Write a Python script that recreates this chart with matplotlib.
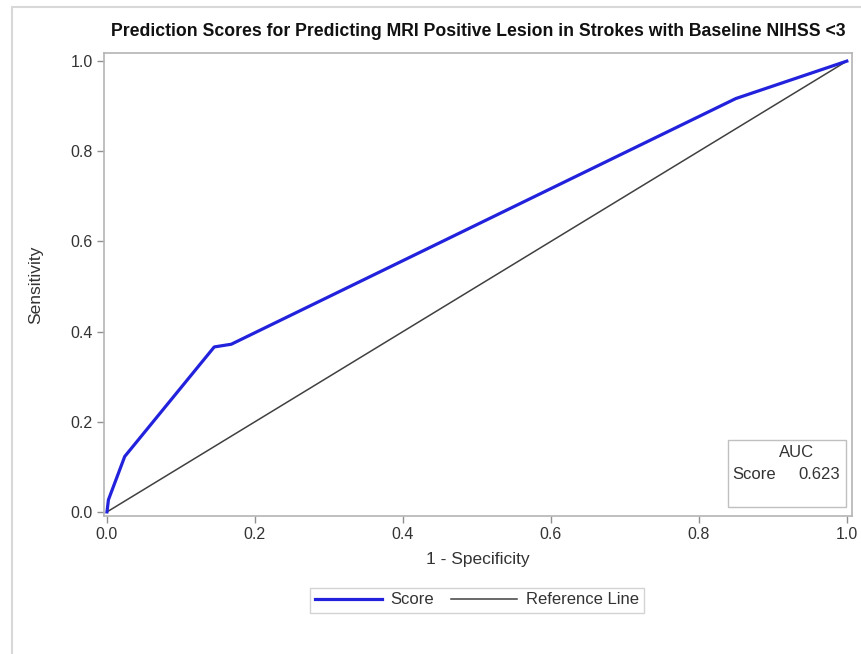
import numpy as np
import matplotlib
matplotlib.use("Agg")
import matplotlib.pyplot as plt
from matplotlib.patches import Rectangle

# ROC points
fpr = [0.0, 0.002, 0.024, 0.145, 0.168, 0.850, 1.0]
tpr = [0.0, 0.027, 0.123, 0.366, 0.372, 0.917, 1.0]
ref_x = [0.0, 1.0]
ref_y = [0.0, 1.0]
auc_label = "Score"
auc_value = 0.623

ticks = [0.0, 0.2, 0.4, 0.6, 0.8, 1.0]
tick_labels = ["0.0", "0.2", "0.4", "0.6", "0.8", "1.0"]

plt.rcParams['font.family'] = ['Liberation Sans', 'DejaVu Sans']

fig = plt.figure(figsize=(8.62, 6.54), dpi=100)

# outer light border
fig.patches.append(Rectangle((12 / 862, -0.05), 1.2, 1 - 7 / 654 + 0.05,
                             transform=fig.transFigure, fill=False,
                             edgecolor="#d8d8d8", linewidth=1.5))

ax = fig.add_axes([104 / 862, 1 - 516 / 654, 748 / 862, 463 / 654])

ax.plot(ref_x, ref_y, color="#404040", linewidth=1.1, label="Reference Line", zorder=2)
ax.plot(fpr, tpr, color="#2222dd", linewidth=2.3, label="Score", zorder=3)

ax.set_xlim(-0.004, 1.007)
ax.set_ylim(-0.009, 1.018)
ax.set_xticks(ticks)
ax.set_xticklabels(tick_labels)
ax.set_yticks(ticks)
ax.set_yticklabels(tick_labels)

for s in ax.spines.values():
    s.set_color("#b4b4b4")
    s.set_linewidth(1.2)
ax.tick_params(direction="out", length=5, width=1, color="#909090",
               labelsize=11.5, labelcolor="#333333", pad=3)

ax.set_xlabel("1 - Specificity", fontsize=12.5, color="#333333", labelpad=7)
ax.set_ylabel("Sensitivity", fontsize=12.5, color="#333333", labelpad=20)

fig.text(478 / 862, 1 - 31 / 654,
         "Prediction Scores for Predicting MRI Positive Lesion in Strokes with Baseline NIHSS <3",
         ha="center", va="center", fontsize=12.7, fontweight="bold", color="#111111")

# AUC inset box
ax.add_patch(Rectangle((0.834, 0.019), 0.158, 0.145, transform=ax.transAxes,
                       fill=True, facecolor="white", edgecolor="#c0c0c0",
                       linewidth=1, zorder=4))
ax.text(0.926, 0.137, "AUC", transform=ax.transAxes, ha="center", va="center",
        fontsize=12, color="#333333", zorder=5)
ax.text(0.84, 0.089, auc_label, transform=ax.transAxes, ha="left", va="center",
        fontsize=12, color="#333333", zorder=5)
ax.text(0.984, 0.089, f"{auc_value:.3f}", transform=ax.transAxes, ha="right", va="center",
        fontsize=12, color="#333333", zorder=5)

handles, labels = ax.get_legend_handles_labels()
leg = fig.legend(handles[::-1], labels[::-1], loc="center",
                 bbox_to_anchor=(477 / 862, 1 - 600 / 654), ncol=2,
                 fontsize=12, handlelength=4.0, columnspacing=1.0,
                 handletextpad=0.5, frameon=True, fancybox=False,
                 borderpad=0.3, labelcolor="#333333")
leg.get_frame().set_edgecolor("#c8c8c8")
leg.get_frame().set_linewidth(1)

fig.savefig("out.png", dpi=100)
